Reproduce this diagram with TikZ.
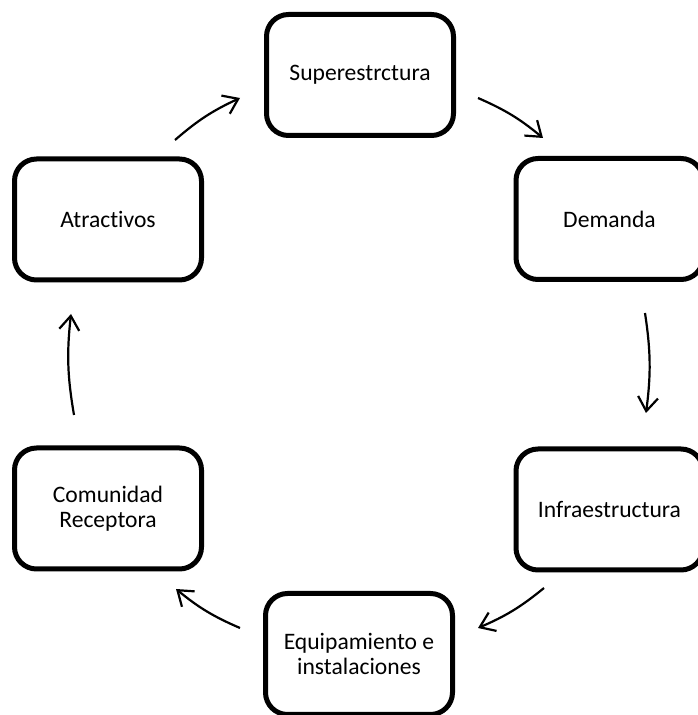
\documentclass[tikz,border=0pt]{standalone}
\usepackage{fontspec}
\setmainfont{Carlito}[RawFeature={-liga;-clig;-dlig}]
\usetikzlibrary{arrows.meta}
\begin{document}
\begin{tikzpicture}[x=1pt,y=1pt,
  cyclebox/.style={draw=black, fill=white, line width=5pt, rounded corners=22pt,
    minimum width=187pt, minimum height=121pt, inner sep=0pt, align=center,
    font=\fontsize{23.6}{25}\selectfont},
  cyclearrow/.style={line width=2.2pt, -{Straight Barb[length=14pt,width=20pt,line width=2.2pt]}, bend left=8}]
\useasboundingbox (0,0) rectangle (698,715);
\begin{scope}
\clip (0,0) rectangle (698,715);
\node[cyclebox] (sup) at (360,640) {Superestrctura};
\node[cyclebox] (dem) at (609.5,496) {Demanda};
\node[cyclebox] (inf) at (609.5,205.5) {Infraestructura};
\node[cyclebox] (equ) at (359,61) {Equipamiento e\\instalaciones};
\node[cyclebox] (com) at (108,206.5) {Comunidad\\Receptora};
\node[cyclebox] (atr) at (108,495.5) {Atractivos};
\end{scope}
\coordinate (a1s) at (175,575); \coordinate (a1e) at (240,617);
\coordinate (a2s) at (478,617); \coordinate (a2e) at (543,577);
\coordinate (a3s) at (645,402); \coordinate (a3e) at (646,302);
\coordinate (a4s) at (544,127); \coordinate (a4e) at (478,87);
\coordinate (a5s) at (240,87);  \coordinate (a5e) at (176,126);
\coordinate (a6s) at (74,300);  \coordinate (a6e) at (71,401);
\draw[cyclearrow] (a1s) to (a1e);
\draw[cyclearrow] (a2s) to (a2e);
\draw[cyclearrow] (a3s) to (a3e);
\draw[cyclearrow] (a4s) to (a4e);
\draw[cyclearrow] (a5s) to (a5e);
\draw[cyclearrow] (a6s) to (a6e);
\end{tikzpicture}
\end{document}
